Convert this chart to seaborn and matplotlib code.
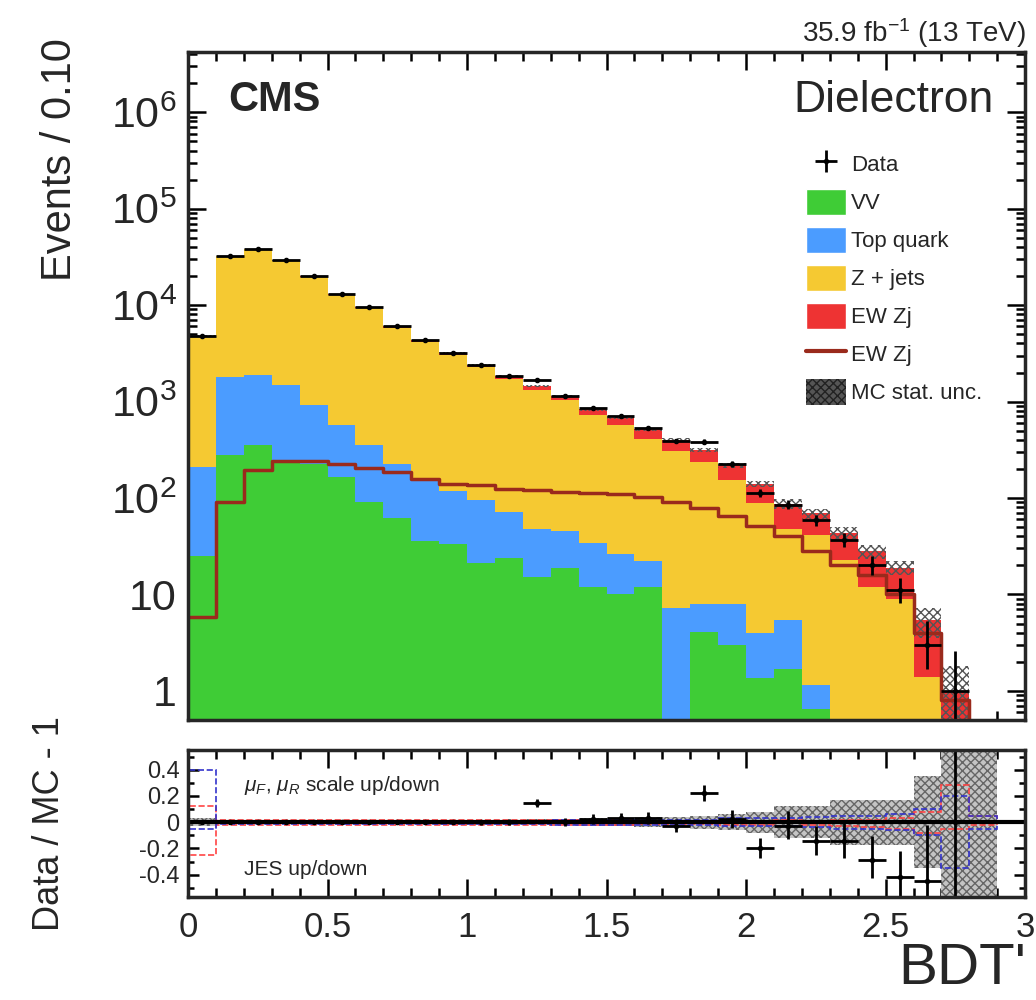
import numpy as np
import pandas as pd
import seaborn as sns
import matplotlib.pyplot as plt
from matplotlib.patches import Patch
from matplotlib.lines import Line2D
from matplotlib.ticker import FixedLocator, FixedFormatter, MultipleLocator, LogLocator, NullFormatter

# --- values (30 bins of 0.10 in BDT') ---
bin_edges = [0.0, 0.1, 0.2, 0.3, 0.4, 0.5, 0.6, 0.7, 0.8, 0.9, 1.0, 1.1, 1.2, 1.3, 1.4, 1.5,
             1.6, 1.7, 1.8, 1.9, 2.0, 2.1, 2.2, 2.3, 2.4, 2.5, 2.6, 2.7, 2.8, 2.9, 3.0]
vv = [25, 280, 355, 235, 225, 165, 92, 62, 36, 33, 21, 24, 15, 19, 12,
      10, 12, 0, 4.1, 3.0, 1.35, 1.7, 0.65, 0, 0, 0, 0, 0, 0, 0]
top_quark = [185, 1500, 1545, 1235, 685, 400, 263, 163, 119, 84, 75, 48, 33, 26, 22,
             16, 10, 7.3, 3.9, 5.0, 2.65, 3.7, 0.5, 0, 0, 0, 0, 0, 0, 0]
zjets = [4585, 30130, 35900, 27290, 18850, 12210, 8940, 5590, 3990, 2940, 2170, 1650, 1280, 990, 684,
         544, 390, 301, 229, 147, 85, 42, 40, 23, 12, 9, 1.4, 0.2, 0, 0]
ewk_zj = [5.8, 92, 195, 240, 240, 225, 205, 185, 158, 140, 137, 125, 120, 116, 112,
          110, 103, 92, 78, 65, 51, 40, 28, 20, 16, 10, 4, 0.8, 0.1, 0]
data = [4800, 32000, 38000, 29000, 20000, 13000, 9500, 6000, 4300, 3200, 2400, 1850, 1660, 1150, 850,
        700, 530, 390, 385, 225, 112, 85, 59, 37, 20, 11, 3, 1, 0, 0]
mc_stat = [0.03, 0.01, 0.01, 0.01, 0.01, 0.01, 0.012, 0.015, 0.015, 0.02, 0.02, 0.02, 0.025, 0.025, 0.03,
           0.03, 0.04, 0.04, 0.05, 0.06, 0.08, 0.12, 0.12, 0.17, 0.17, 0.17, 0.35, 0.8, 1.0, 0]
jes_up = [0.12, 0.02, 0.02, 0.02, 0.02, 0.02, 0.02, 0.02, 0.02, 0.02, 0.02, 0.02, 0.02, 0.02, 0.02,
          0.02, 0.01, 0.01, 0.01, 0.0, 0.01, 0.02, 0.0, 0.02, 0.02, 0.03, 0.08, 0.28, 0.05, 0]
jes_down = [-0.25, -0.02, -0.02, -0.02, -0.02, -0.02, -0.02, -0.02, -0.02, -0.02, -0.02, -0.02, -0.02, -0.02, -0.02,
            -0.02, -0.01, -0.01, -0.01, -0.02, -0.02, -0.03, -0.02, -0.03, -0.04, -0.05, -0.08, -0.05, -0.02, 0]
scale_up = [0.40, 0.01, 0.01, 0.01, 0.01, 0.01, 0.01, 0.01, 0.01, 0.01, 0.01, 0.01, 0.01, 0.02, 0.02,
            0.02, 0.02, 0.02, 0.02, 0.03, 0.03, 0.03, 0.04, 0.05, 0.05, 0.06, 0.1, 0.2, 0.05, 0]
scale_down = [-0.05, -0.01, -0.01, -0.01, -0.01, -0.01, -0.01, -0.01, -0.01, -0.01, -0.01, -0.01, -0.01, -0.02, -0.02,
              -0.02, -0.02, -0.02, -0.02, -0.03, -0.03, -0.03, -0.04, -0.05, -0.05, -0.06, -0.1, -0.35, -0.05, 0]

process_order = ['EW Zj', 'Z + jets', 'Top quark', 'VV']
colors = {'VV': '#3fcc36', 'Top quark': '#4b9cff', 'Z + jets': '#f5c932', 'EW Zj': '#ee3333'}
ewk_line = '#9a2a1c'

sns.set_style('ticks')
plt.rcParams['font.family'] = ['Liberation Sans', 'DejaVu Sans']
plt.rcParams['mathtext.fontset'] = 'custom'
plt.rcParams['mathtext.rm'] = 'Liberation Sans'
plt.rcParams['mathtext.it'] = 'Liberation Sans:italic'
plt.rcParams['mathtext.bf'] = 'Liberation Sans:bold'
plt.rcParams['axes.unicode_minus'] = False
plt.rcParams['hatch.linewidth'] = 1.0

edges = np.array(bin_edges)
centers = 0.5 * (edges[:-1] + edges[1:])
data = np.array(data, dtype=float)
total = np.array(vv) + np.array(top_quark) + np.array(zjets) + np.array(ewk_zj)
stat = np.array(mc_stat)

rows = []
for name, vals in [('VV', vv), ('Top quark', top_quark), ('Z + jets', zjets), ('EW Zj', ewk_zj)]:
    for c, w in zip(centers, vals):
        rows.append((c, w, name))
mc = pd.DataFrame(rows, columns=['bdt', 'events', 'process'])

fig = plt.figure(figsize=(10.36, 10.0), dpi=100)
ax = fig.add_axes([0.1815, 0.28, 0.808, 0.668])
rax = fig.add_axes([0.1815, 0.103, 0.808, 0.147])

# main panel
ax.set_yscale('log')
sns.histplot(data=mc, x='bdt', weights='events', hue='process', hue_order=process_order,
             multiple='stack', bins=bin_edges, element='step', fill=True, alpha=1,
             linewidth=0, palette=colors, legend=False, ax=ax)
sns.histplot(x=centers, weights=ewk_zj, bins=bin_edges, element='step', fill=False,
             color=ewk_line, linewidth=2.5, ax=ax)

ok = total > 0
ax.bar(centers[ok], 2 * stat[ok] * total[ok], bottom=total[ok] * (1 - stat[ok]), width=0.1,
       fill=False, hatch='xxxx', edgecolor='#555555', linewidth=0)

has = data > 0
d = data[has]
err_hi = np.sqrt(d + 0.25) + 0.5
err_lo = np.sqrt(d + 0.25) - 0.5
data_h = ax.errorbar(centers[has], d, xerr=0.05, yerr=[err_lo, err_hi], fmt='o', color='black',
                     ms=3, elinewidth=2, capsize=0)

ax.set_xlim(0, 3)
ax.set_ylim(0.5, 4.2e6)
ax.set_xlabel('')
ax.set_ylabel('')
ax.yaxis.set_major_locator(FixedLocator([1, 10, 1e2, 1e3, 1e4, 1e5, 1e6]))
ax.yaxis.set_major_formatter(FixedFormatter(['1', '10', '$10^{2}$', '$10^{3}$', '$10^{4}$', '$10^{5}$', '$10^{6}$']))
ax.yaxis.set_minor_locator(LogLocator(base=10, subs=np.arange(2, 10), numticks=20))
ax.yaxis.set_minor_formatter(NullFormatter())
ax.xaxis.set_major_locator(MultipleLocator(0.5))
ax.xaxis.set_minor_locator(MultipleLocator(0.1))
ax.tick_params(axis='x', labelbottom=False)

ax.text(0.048, 0.928, 'CMS', transform=ax.transAxes, fontsize=30, fontweight='bold', va='center', ha='left')
ax.text(0.962, 0.928, 'Dielectron', transform=ax.transAxes, fontsize=32, va='center', ha='right')

handles = [data_h,
           Patch(facecolor=colors['VV']), Patch(facecolor=colors['Top quark']),
           Patch(facecolor=colors['Z + jets']), Patch(facecolor=colors['EW Zj']),
           Line2D([], [], color=ewk_line, lw=3),
           Patch(facecolor='#555555', edgecolor='#222222', hatch='xxxx', linewidth=0)]
labels = ['Data', 'VV', 'Top quark', 'Z + jets', 'EW Zj', 'EW Zj', 'MC stat. unc.']
ax.legend(handles, labels, loc='upper left', bbox_to_anchor=(0.738, 0.852), frameon=False,
          fontsize=16, handlelength=1.8, handleheight=1.45, labelspacing=0.52, handletextpad=0.25,
          borderpad=0, borderaxespad=0)

# ratio panel
rax.bar(centers, 2 * stat, bottom=-stat, width=0.1, color='#c4c4c4', hatch='xxxx',
        edgecolor='#666666', linewidth=0)
rax.stairs(jes_up, edges, color='#ff4444', lw=1.2, ls='--')
rax.stairs(jes_down, edges, color='#ff4444', lw=1.2, ls='--')
rax.stairs(scale_up, edges, color='#3333cc', lw=1.2, ls='--')
rax.stairs(scale_down, edges, color='#3333cc', lw=1.2, ls='--')
rax.axhline(0, color='black', lw=3)

rm = (data > 0) & (total > 0)
ratio = data[rm] / total[rm] - 1
r_hi = (np.sqrt(data[rm] + 0.25) + 0.5) / total[rm]
r_lo = (np.sqrt(data[rm] + 0.25) - 0.5) / total[rm]
rax.errorbar(centers[rm], ratio, xerr=0.05, yerr=[r_lo, r_hi], fmt='o', color='black',
             ms=3, elinewidth=2, capsize=0)

rax.text(0.2, 0.28, r'$\mu_F$, $\mu_R$ scale up/down', fontsize=15, va='center', ha='left')
rax.text(0.2, -0.36, 'JES up/down', fontsize=15, va='center', ha='left')

rax.set_xlim(0, 3)
rax.set_ylim(-0.57, 0.55)
rax.yaxis.set_major_locator(FixedLocator([-0.4, -0.2, 0, 0.2, 0.4]))
rax.yaxis.set_major_formatter(FixedFormatter(['-0.4', '-0.2', '0', '0.2', '0.4']))
rax.yaxis.set_minor_locator(MultipleLocator(0.1))
rax.xaxis.set_major_locator(FixedLocator([0, 0.5, 1, 1.5, 2, 2.5, 3]))
rax.xaxis.set_major_formatter(FixedFormatter(['0', '0.5', '1', '1.5', '2', '2.5', '3']))
rax.xaxis.set_minor_locator(MultipleLocator(0.1))

for a in (ax, rax):
    for s in a.spines.values():
        s.set_linewidth(2.5)
        s.set_visible(True)
    a.tick_params(which='both', direction='in', top=True, right=True, width=1.8, color='black')
    a.tick_params(which='major', length=13)
    a.tick_params(which='minor', length=6.5)
ax.tick_params(axis='y', labelsize=31, pad=8)
rax.tick_params(axis='y', labelsize=17, pad=6)
rax.tick_params(axis='x', labelsize=25, pad=10)
rax.tick_params(axis='y', which='major', length=8)
rax.tick_params(axis='y', which='minor', length=4)

fig.text(0.058, 0.962, 'Events / 0.10', rotation=90, fontsize=30, ha='center', va='top')
fig.text(0.048, 0.176, 'Data / MC - 1', rotation=90, fontsize=26, ha='center', va='center')
fig.text(0.99, 0.004, "BDT'", fontsize=42, ha='right', va='bottom')
fig.text(0.99, 0.967, r'35.9 fb$^{-1}$ (13 TeV)', fontsize=20, ha='right', va='center')

fig.savefig('out.png', dpi=100)
